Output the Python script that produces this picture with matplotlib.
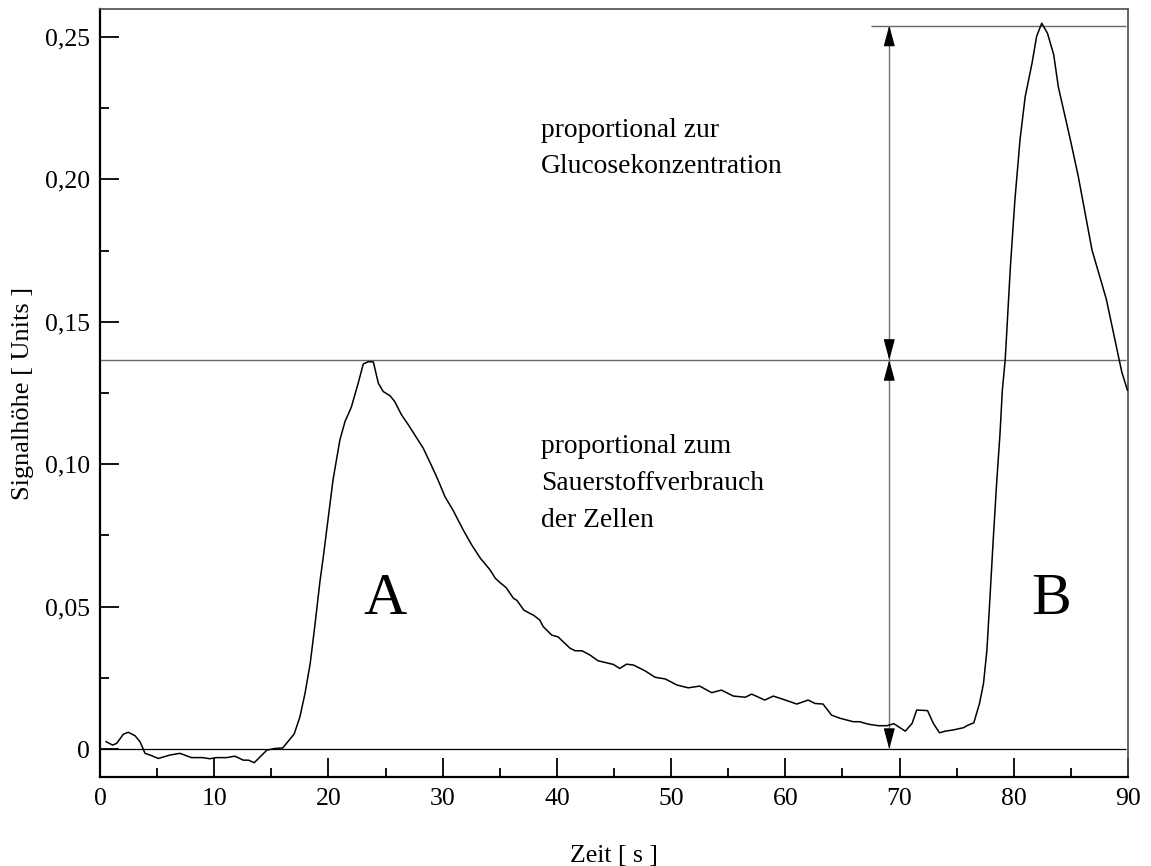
import numpy as np
import matplotlib
matplotlib.use("Agg")
import matplotlib.pyplot as plt
from matplotlib.ticker import MultipleLocator, FuncFormatter

plt.rcParams['font.family'] = ['Liberation Serif', 'DejaVu Serif']

# signal trace (time in s, height in units)
zeit = [0.53, 1.1, 1.46, 2.04, 2.47, 3.06, 3.5, 3.94, 4.38, 5.1, 6.13, 7.0, 8.0, 9.0,
        9.6, 10.2, 11.1, 11.8, 12.55, 13.0, 13.5, 14.6, 15.3, 16.0, 17.0, 17.5, 17.95,
        18.4, 18.8, 19.26, 19.55, 20.4, 21.0, 21.45, 22.0, 22.6, 23.05, 23.5, 23.93,
        24.37, 24.8, 25.4, 25.8, 26.4, 27.0, 27.6, 28.3, 29.0, 29.6, 30.2, 30.9, 31.8,
        32.55, 33.3, 34.15, 34.6, 35.0, 35.55, 36.2, 36.5, 37.1, 37.65, 37.95, 38.5,
        38.8, 39.55, 40.1, 40.55, 41.15, 41.6, 42.2, 42.9, 43.6, 44.95, 45.5, 46.1,
        46.7, 47.7, 48.6, 49.5, 50.5, 51.5, 52.5, 53.55, 54.4, 55.45, 56.5, 57.05,
        58.2, 58.95, 60.0, 61.0, 62.0, 62.6, 63.3, 64.05, 64.8, 65.95, 66.5, 67.3,
        68.15, 68.9, 69.5, 70.5, 71.1, 71.5, 72.45, 72.96, 73.5, 74.0, 74.7, 75.6,
        76.0, 76.5, 77.0, 77.35, 77.65, 77.9, 78.2, 78.5, 78.8, 79.0, 79.25, 79.7,
        80.1, 80.55, 81.0, 81.6, 82.0, 82.45, 82.95, 83.5, 83.9, 84.95, 85.65, 86.85,
        88.1, 89.0, 89.45, 89.95]
signal = [0.0026, 0.0014, 0.0020, 0.0052, 0.0059, 0.0047, 0.0026, -0.0015, -0.0021,
          -0.0033, -0.0021, -0.0015, -0.0030, -0.0030, -0.0034, -0.0030, -0.0030,
          -0.0025, -0.0039, -0.0039, -0.0048, -0.0004, 0.0002, 0.0004, 0.0053, 0.0113,
          0.0196, 0.030, 0.043, 0.059, 0.0675, 0.0945, 0.1085, 0.115, 0.120, 0.1284,
          0.1352, 0.136, 0.1359, 0.1284, 0.1255, 0.124, 0.122, 0.1173, 0.1138, 0.110,
          0.1056, 0.0997, 0.0944, 0.0886, 0.0839, 0.0769, 0.0716, 0.0670, 0.0629,
          0.0600, 0.0585, 0.0567, 0.0529, 0.0522, 0.0488, 0.0476, 0.0470, 0.0453,
          0.0430, 0.0400, 0.0394, 0.0377, 0.0354, 0.0345, 0.0345, 0.0330, 0.0310,
          0.0297, 0.0283, 0.0298, 0.0295, 0.0275, 0.0252, 0.0246, 0.0225, 0.0215,
          0.0221, 0.0198, 0.0207, 0.0186, 0.0182, 0.0193, 0.0172, 0.0186, 0.0172,
          0.0158, 0.0172, 0.0160, 0.0158, 0.0119, 0.0108, 0.0096, 0.0096, 0.0087,
          0.0082, 0.0082, 0.0089, 0.0063, 0.0090, 0.0137, 0.0135, 0.0090, 0.0057,
          0.0063, 0.0067, 0.0075, 0.0084, 0.0092, 0.0160, 0.0230, 0.0348, 0.0520,
          0.0734, 0.0933, 0.1110, 0.1260, 0.1366, 0.169, 0.1928, 0.214, 0.229, 0.2408,
          0.2502, 0.2548, 0.2513, 0.2437, 0.2325, 0.214, 0.201, 0.1752, 0.158, 0.141,
          0.1325, 0.126]

# reference levels and the measuring arrow
baseline = 0.0
peak_a = 0.1366
peak_b = 0.254
arrow_x = 69.1

fig = plt.figure(figsize=(11.51, 8.66), dpi=100)
ax = fig.add_axes([0.0869, 0.1028, 0.8931, 0.8868])

ax.plot(zeit, signal, color='black', lw=1.1, zorder=3)

# horizontal guide lines
ax.hlines(baseline, 0, 89.8, color='black', lw=0.9)
ax.hlines(peak_a, 0, 89.8, color='0.4', lw=1.0)
ax.hlines(peak_b, 67.5, 89.8, color='0.4', lw=1.0)
ax.vlines(arrow_x, baseline, peak_b, color='0.45', lw=1.0)

# arrow heads (just the heads, tips at the levels)
heads = [(peak_b, -13), (peak_a, 13), (peak_a, -13), (baseline, 13)]
for level, off in heads:
    ax.annotate('', xy=(arrow_x, level), xytext=(0, off), textcoords='offset points',
                arrowprops=dict(arrowstyle='-|>,head_length=1.3,head_width=0.35',
                                color='black', lw=0.8, shrinkA=0, shrinkB=0))

ax.text(38.6, 0.2108, 'proportional zur\nGlucosekonzentration', fontsize=19.8,
        ha='left', va='center', linespacing=1.62)
ax.text(38.6, 0.0933, 'proportional zum\nSauerstoffverbrauch\nder Zellen', fontsize=19.8,
        ha='left', va='center', linespacing=1.62)
ax.text(24.95, 0.0523, 'A', fontsize=43, ha='center', va='center')
ax.text(83.3, 0.0523, 'B', fontsize=43, ha='center', va='center')

ax.set_xlim(0, 90)
ax.set_ylim(-0.0098, 0.2598)

ax.xaxis.set_major_locator(MultipleLocator(10))
ax.xaxis.set_minor_locator(MultipleLocator(5))
ax.yaxis.set_major_locator(MultipleLocator(0.05))
ax.yaxis.set_minor_locator(MultipleLocator(0.025))

def de_fmt(v, pos):
    if abs(v) < 1e-9:
        return '0'
    return f'{v:.2f}'.replace('.', ',')

ax.yaxis.set_major_formatter(FuncFormatter(de_fmt))

ax.tick_params(which='both', direction='in', top=False, right=False, width=1.3,
               labelsize=18.5)
ax.tick_params(which='major', length=13.5)
ax.tick_params(which='minor', length=6.5)
ax.tick_params(axis='x', pad=8)
ax.tick_params(axis='y', pad=7)

for side in ['left', 'bottom']:
    ax.spines[side].set_linewidth(1.6)
    ax.spines[side].set_color('black')
for side in ['top', 'right']:
    ax.spines[side].set_linewidth(1.2)
    ax.spines[side].set_color('0.3')

ax.set_xlabel('Zeit [ s ]', fontsize=18.5, labelpad=25)
ax.set_ylabel('Signalhöhe [ Units ]', fontsize=19, labelpad=8)

fig.savefig('out.png', dpi=100)
